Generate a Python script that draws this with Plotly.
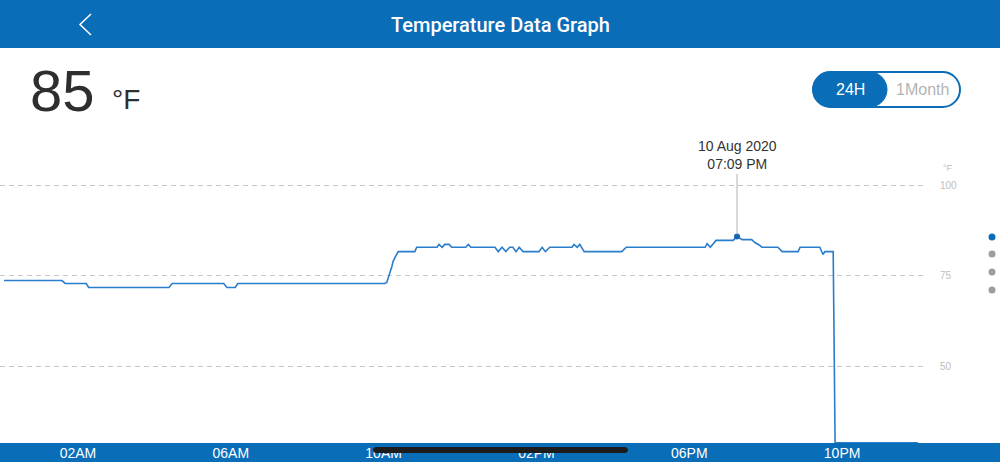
import plotly.graph_objects as go

# ---------------- data ----------------
DAY = "2020-08-10"
times = ["00:04", "01:35", "01:40", "02:13", "02:17", "04:23", "04:28", "05:49", "05:54",
         "06:07", "06:11", "10:02", "10:05", "10:08", "10:10", "10:13", "10:15", "10:18",
         "10:21", "10:23", "10:49", "10:52", "11:24", "11:27", "11:32", "11:36", "11:43",
         "11:47", "12:09", "12:13", "12:17", "12:55", "13:00", "13:06", "13:12", "13:18",
         "13:23", "13:28", "13:33", "13:39", "14:04", "14:09", "14:14", "14:21", "14:56",
         "14:59", "15:04", "15:08", "15:15", "16:14", "16:21", "18:25", "18:28", "18:33",
         "18:42", "19:09", "19:15", "19:23", "19:38", "19:43", "19:51", "19:54", "20:19",
         "20:26", "20:51", "20:54", "21:25", "21:30", "21:33", "21:46", "21:49", "23:59"]
temps_f = [73.6, 73.6, 72.8, 72.8, 71.7, 71.7, 72.8, 72.8, 71.7,
           71.7, 72.8, 72.8, 73.1, 74.5, 75.8, 77.5, 78.9, 80.0,
           80.8, 81.6, 81.6, 82.8, 82.8, 83.6, 82.8, 83.6, 83.6,
           82.8, 82.8, 83.6, 82.8, 82.8, 81.6, 82.8, 81.6, 82.8,
           82.8, 81.6, 82.8, 81.6, 81.6, 82.8, 81.6, 82.8, 82.8,
           83.6, 82.8, 83.6, 81.6, 81.6, 82.8, 82.8, 83.8, 82.8,
           84.7, 84.7, 85.8, 84.9, 84.9, 84.1, 83.3, 82.8, 82.8,
           81.6, 81.6, 82.8, 82.8, 80.8, 81.6, 81.6, 28.8, 28.8]

tick_times = ["02:00", "06:00", "10:00", "14:00", "18:00", "22:00"]
tick_labels = ["02AM", "06AM", "10AM", "02PM", "06PM", "10PM"]
y_ticks = [50, 75, 100]
y_tick_labels = ["50", "75", "100"]

title_text = "Temperature Data Graph"
current_temp = "85"
unit_text = "°F"
tooltip_date = "10 Aug 2020"
tooltip_time = "07:09 PM"
range_buttons = ["24H", "1Month"]

x_range = ["2020-08-09 23:57:40", "2020-08-11 00:10:10"]
y_range = [28.73, 112.43]

# ---------------- layout helpers ----------------
W, H = 1000, 462
L, R, T, B = 0, 75, 140, 19
PW = W - L - R
PH = H - T - B

BLUE = "#0a6db8"
LINE_BLUE = "#2a7dcb"


def px(x):
    return (x - L) / PW


def py(y):
    return (H - B - y) / PH


def pt(x, y):
    return f"{px(x):.5f},{py(y):.5f}"


def pill_path(x0, y0, x1, y1):
    r = (y1 - y0) / 2.0
    k = 0.5523 * r
    return (
        f"M {pt(x0 + r, y0)} L {pt(x1 - r, y0)} "
        f"C {pt(x1 - r + k, y0)} {pt(x1, y0 + r - k)} {pt(x1, y0 + r)} "
        f"C {pt(x1, y0 + r + k)} {pt(x1 - r + k, y1)} {pt(x1 - r, y1)} "
        f"L {pt(x0 + r, y1)} "
        f"C {pt(x0 + r - k, y1)} {pt(x0, y0 + r + k)} {pt(x0, y0 + r)} "
        f"C {pt(x0, y0 + r - k)} {pt(x0 + r - k, y0)} {pt(x0 + r, y0)} Z"
    )


x_vals = [f"{DAY} {t}" for t in times]
peak_i = max(range(len(temps_f)), key=lambda k: temps_f[k])

fig = go.Figure()
fig.add_trace(go.Scatter(
    x=x_vals, y=temps_f, mode="lines",
    line=dict(color=LINE_BLUE, width=1.6),
    hoverinfo="skip", showlegend=False,
))
fig.add_trace(go.Scatter(
    x=[x_vals[peak_i]], y=[temps_f[peak_i]], mode="markers",
    marker=dict(color="#1664b2", size=6),
    hoverinfo="skip", showlegend=False,
))

shapes = []
# header band
shapes.append(dict(type="rect", xref="paper", yref="paper",
                   x0=px(0), x1=px(W), y0=py(48), y1=py(0),
                   fillcolor=BLUE, line=dict(width=0), layer="below"))
# bottom band
shapes.append(dict(type="rect", xref="paper", yref="paper",
                   x0=px(0), x1=px(W), y0=py(H), y1=py(443),
                   fillcolor=BLUE, line=dict(width=0), layer="below"))
# back chevron
shapes.append(dict(type="path", xref="paper", yref="paper",
                   path=f"M {pt(91, 14)} L {pt(80, 24.5)} L {pt(91, 35)}",
                   line=dict(color="white", width=1.5), layer="above"))
# toggle
shapes.append(dict(type="path", xref="paper", yref="paper",
                   path=pill_path(813, 72, 960, 107),
                   fillcolor="white", line=dict(color=BLUE, width=2), layer="above"))
shapes.append(dict(type="path", xref="paper", yref="paper",
                   path=pill_path(813, 72, 887, 107),
                   fillcolor=BLUE, line=dict(color=BLUE, width=1), layer="above"))
# page dots
for i, yy in enumerate([237, 254, 272, 290]):
    col = BLUE if i == 0 else "#9e9e9e"
    shapes.append(dict(type="circle", xref="paper", yref="paper",
                       x0=px(988.5), x1=px(995.5), y0=py(yy + 3.5), y1=py(yy - 3.5),
                       fillcolor=col, line=dict(width=0), layer="above"))
# home indicator
shapes.append(dict(type="path", xref="paper", yref="paper",
                   path=pill_path(373, 447, 628, 453),
                   fillcolor="#1c1c1c", line=dict(width=0), layer="above"))

FONT = "Liberation Sans, Arial, sans-serif"
annotations = [
    dict(text=title_text, xref="paper", yref="paper", x=px(500), y=py(25),
         xanchor="center", yanchor="middle", showarrow=False,
         font=dict(family="Roboto", size=20, color="white", weight=500)),
    dict(text=current_temp, xref="paper", yref="paper", x=px(28), y=py(91),
         xanchor="left", yanchor="middle", showarrow=False,
         font=dict(family=FONT, size=58, color="#2e2e2e")),
    dict(text=unit_text, xref="paper", yref="paper", x=px(110), y=py(100),
         xanchor="left", yanchor="middle", showarrow=False,
         font=dict(family=FONT, size=28, color="#2e2e2e")),
    dict(text=range_buttons[0], xref="paper", yref="paper", x=px(850), y=py(89.5),
         xanchor="center", yanchor="middle", showarrow=False,
         font=dict(family=FONT, size=16, color="white")),
    dict(text=range_buttons[1], xref="paper", yref="paper", x=px(922), y=py(89.5),
         xanchor="center", yanchor="middle", showarrow=False,
         font=dict(family=FONT, size=16, color="#b4b4b4")),
    dict(text=unit_text, xref="paper", yref="paper", x=px(948), y=py(168),
         xanchor="center", yanchor="middle", showarrow=False,
         font=dict(family=FONT, size=9, color="#bdbdbd")),
    dict(text=f"{tooltip_date}<br>{tooltip_time}", xref="x", yref="y",
         x=x_vals[peak_i], y=temps_f[peak_i], showarrow=True,
         arrowhead=0, arrowwidth=1, arrowcolor="#b0b0b0", ax=0, ay=-81,
         standoff=2, align="center",
         font=dict(family=FONT, size=14, color="#333333")),
]

fig.update_layout(
    width=W, height=H, autosize=False,
    margin=dict(l=L, r=R, t=T, b=B, pad=0),
    paper_bgcolor="white", plot_bgcolor="rgba(0,0,0,0)",
    showlegend=False,
    shapes=shapes, annotations=annotations,
    xaxis=dict(
        type="date", range=x_range,
        tickvals=[f"{DAY} {t}" for t in tick_times], ticktext=tick_labels,
        tickfont=dict(family=FONT, size=14, color="white"),
        showgrid=False, zeroline=False, showline=False, ticks="",
        fixedrange=True,
    ),
    yaxis=dict(
        range=y_range, side="right",
        tickvals=y_ticks, ticktext=y_tick_labels,
        tickfont=dict(family=FONT, size=10, color="#bdbdbd"),
        showgrid=True, gridcolor="#c8c8c8", gridwidth=1, griddash="5px,4px",
        zeroline=False, showline=False, ticks="outside", ticklen=12,
        tickcolor="rgba(0,0,0,0)", fixedrange=True,
    ),
)

fig.write_html("out.html", config={"displayModeBar": False})
